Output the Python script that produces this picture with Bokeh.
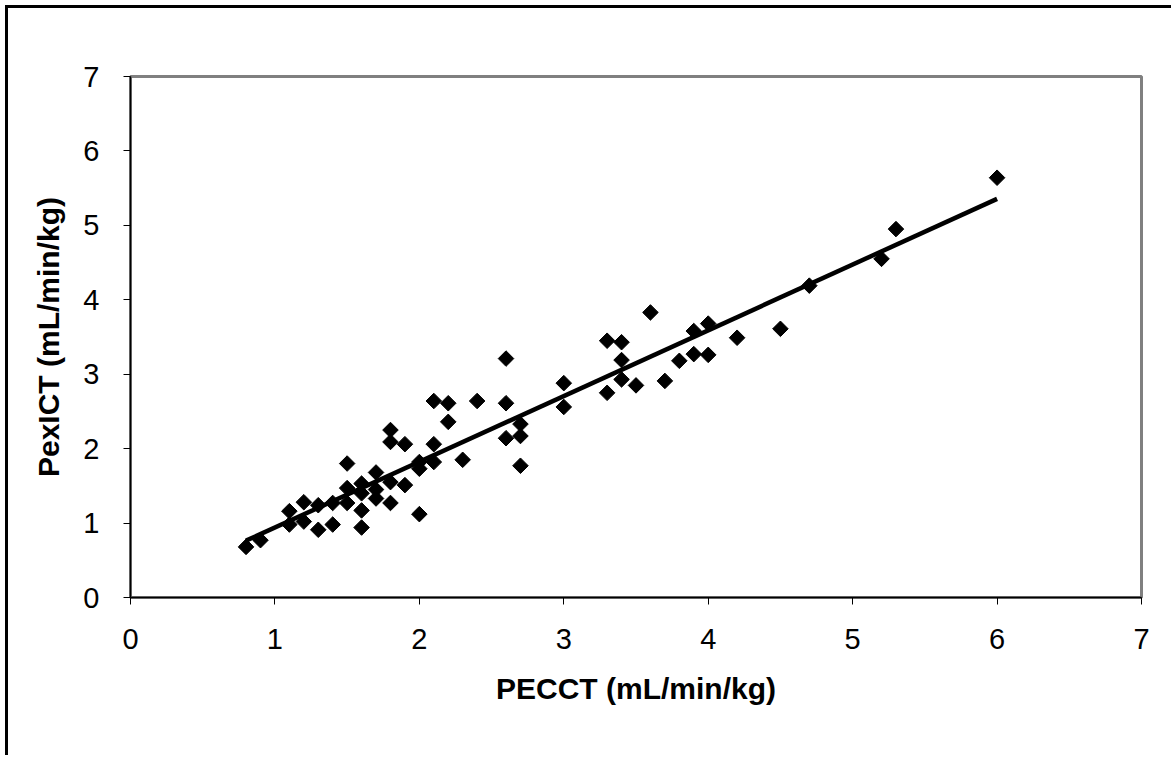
import numpy as np
from bokeh.plotting import figure
from bokeh.models import Range1d, FixedTicker, ColumnDataSource
from bokeh.embed import file_html
from bokeh.resources import INLINE

# PECCT (x) and PexICT (y), mL/min/kg
pecct = [0.8, 0.9,
         1.1, 1.1, 1.2, 1.2, 1.3, 1.3, 1.4, 1.4,
         1.5, 1.5, 1.5, 1.6, 1.6, 1.6, 1.6,
         1.7, 1.7, 1.7, 1.8, 1.8, 1.8, 1.8,
         1.9, 1.9, 2.0, 2.0, 2.0, 2.1, 2.1, 2.1,
         2.2, 2.2, 2.3, 2.4, 2.6, 2.6, 2.6, 2.7, 2.7, 2.7,
         3.0, 3.0, 3.3, 3.3, 3.4, 3.4, 3.4, 3.5, 3.6, 3.7, 3.8,
         3.9, 3.9, 4.0, 4.0, 4.2, 4.5, 4.7, 5.2, 5.3, 6.0]
pexict = [0.68, 0.77,
          1.16, 0.98, 1.28, 1.02, 1.24, 0.91, 1.27, 0.98,
          1.80, 1.47, 1.27, 1.53, 1.40, 1.17, 0.94,
          1.68, 1.45, 1.33, 2.25, 2.09, 1.55, 1.27,
          2.06, 1.51, 1.82, 1.73, 1.12, 2.64, 2.06, 1.82,
          2.61, 2.36, 1.85, 2.64, 3.21, 2.61, 2.14, 2.33, 2.17, 1.77,
          2.88, 2.56, 3.45, 2.75, 3.43, 3.19, 2.93, 2.85, 3.83, 2.91, 3.18,
          3.58, 3.27, 3.68, 3.26, 3.49, 3.61, 4.19, 4.55, 4.95, 5.64]

x_ticks = [0, 1, 2, 3, 4, 5, 6, 7]
y_ticks = [0, 1, 2, 3, 4, 5, 6, 7]

x_arr = np.array(pecct)
y_arr = np.array(pexict)
slope, intercept = np.polyfit(x_arr, y_arr, 1)
fit_x = [x_arr.min(), x_arr.max()]
fit_y = [intercept + slope * v for v in fit_x]

p = figure(width=1166, height=750, output_backend="svg", toolbar_location=None,
           x_range=Range1d(0, 7), y_range=Range1d(0, 7),
           min_border_left=122, min_border_right=33,
           min_border_top=68, min_border_bottom=161)

p.styles = {"border-left": "3px solid black", "border-top": "3px solid black",
            "margin-left": "5px", "margin-top": "5px"}

p.background_fill_color = "white"
p.border_fill_color = "white"
p.outline_line_color = "#808080"
p.outline_line_width = 3
p.xgrid.visible = False
p.ygrid.visible = False

src = ColumnDataSource(dict(x=pecct, y=pexict))
p.line(fit_x, fit_y, line_color="black", line_width=4.5)
p.scatter("x", "y", source=src, marker="square", size=11, angle=np.pi / 4,
          fill_color="black", line_color="black")

for ax, ticks in ((p.xaxis, x_ticks), (p.yaxis, y_ticks)):
    ax.ticker = FixedTicker(ticks=ticks)
    ax.minor_tick_line_color = None
    ax.major_tick_in = 0
    ax.major_tick_out = 7
    ax.major_tick_line_color = "black"
    ax.axis_line_color = "black"
    ax.axis_line_width = 1.5
    ax.major_label_text_font = "Liberation Sans"
    ax.major_label_text_font_size = "29px"
    ax.major_label_text_color = "black"
    ax.axis_label_text_font = "Liberation Sans"
    ax.axis_label_text_font_size = "30px"
    ax.axis_label_text_font_style = "bold"
    ax.axis_label_text_color = "black"

p.xaxis.axis_label = "PECCT (mL/min/kg)"
p.yaxis.axis_label = "PexICT (mL/min/kg)"
p.xaxis.major_label_standoff = 24
p.yaxis.major_label_standoff = 24
p.xaxis.axis_label_standoff = 20
p.yaxis.axis_label_standoff = 15

open("out.html", "w").write(file_html(p, INLINE))
